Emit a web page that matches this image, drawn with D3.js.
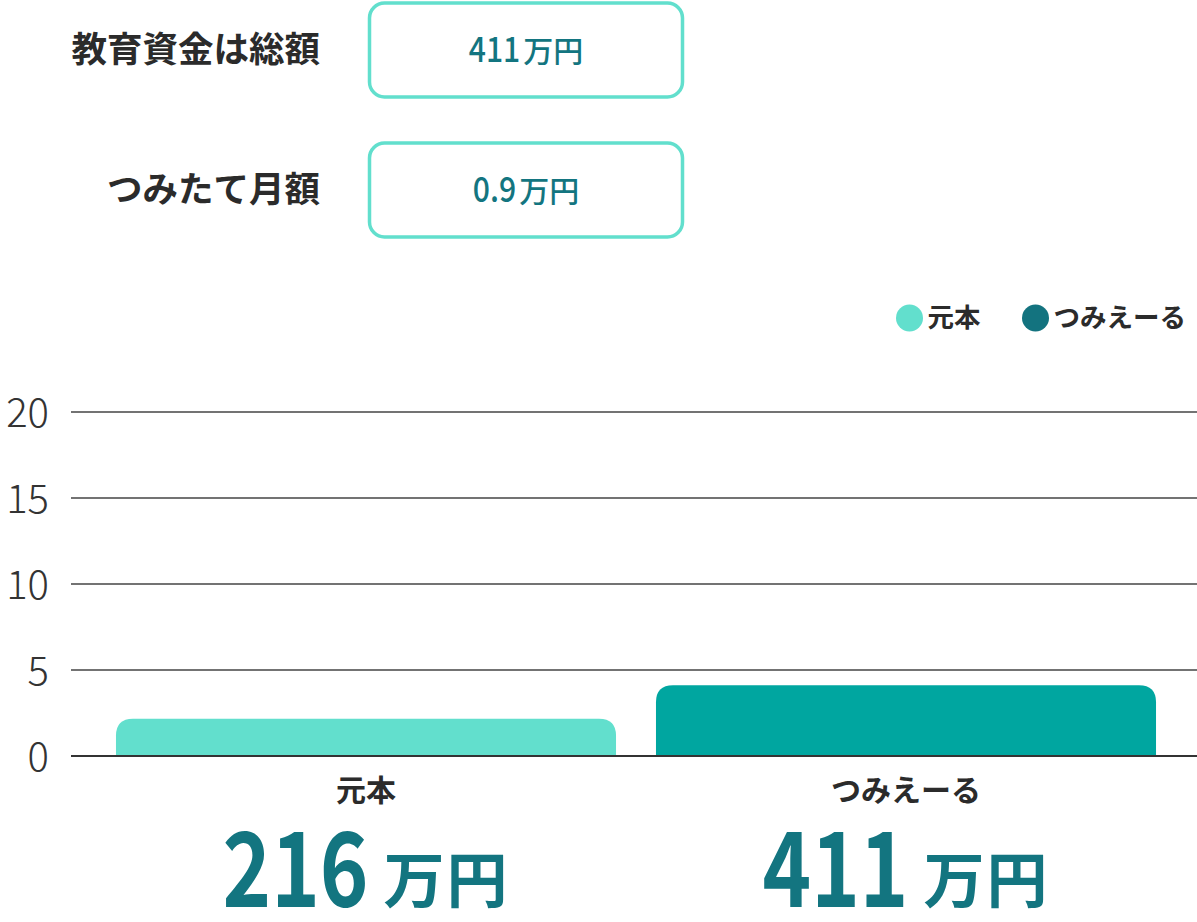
<!DOCTYPE html>
<html><head><meta charset="utf-8">
<script src="https://cdn.jsdelivr.net/npm/d3@7/dist/d3.min.js"></script>
<style>
html,body{margin:0;padding:0;background:#fff;}
svg{display:block;font-family:"Noto Sans CJK JP","Noto Sans",sans-serif;}
</style></head>
<body>
<svg id="chart" width="1197" height="922"></svg>
<script>
// ---- data ----
const categories = ["元本", "つみえーる"];
const values = [2.16, 4.11];            // 百万円
const valueLabels = ["216", "411"];
const unitLabel = "万円";
const yTicks = [0, 5, 10, 15, 20];
const barColors = ["#62DFCD", "#00A6A0"];
const legendColors = ["#62DFCD", "#13737F"];
const inputLabels = ["教育資金は総額", "つみたて月額"];
const inputValues = ["411", "0.9"];

const svg = d3.select("#chart");
const textDark = "#2b2b2b";
const teal = "#137580";

// ---- input rows ----
inputLabels.forEach((lab, i) => {
  const cy = 50 + i * 140;
  svg.append("text").attr("x", 320).attr("y", cy).attr("dy", "0.35em")
    .attr("text-anchor", "end").attr("font-size", 35.5).attr("font-weight", 700)
    .attr("fill", textDark).text(lab);
  svg.append("rect").attr("x", 369.5).attr("y", cy - 47).attr("width", 313).attr("height", 94)
    .attr("rx", 15).attr("fill", "#fff").attr("stroke", "#62DFCD").attr("stroke-width", 3.5);
  const g = svg.append("g");
  const d = g.append("text").attr("x", 0).attr("y", 0).attr("font-size", 35).attr("font-weight", 500)
    .attr("fill", teal).text(inputValues[i]);
  const dw = d.node().getComputedTextLength() * 0.86;
  d.attr("textLength", dw).attr("lengthAdjust", "spacingAndGlyphs");
  g.append("text").attr("x", dw + 3).attr("y", 0).attr("font-size", 30).attr("font-weight", 500)
    .attr("fill", teal).text(unitLabel);
  const bb = g.node().getBBox();
  g.attr("transform", `translate(${526 - bb.width / 2},${cy + 12})`);
});

// ---- legend ----
const legendX = [909.5, 1035.5];
categories.forEach((c, i) => {
  svg.append("circle").attr("cx", legendX[i]).attr("cy", 318).attr("r", 13.5).attr("fill", legendColors[i]);
  svg.append("text").attr("x", legendX[i] + 18).attr("y", 318).attr("dy", "0.35em")
    .attr("font-size", 26.5).attr("font-weight", 700).attr("fill", textDark).text(c);
});

// ---- scales ----
const y = d3.scaleLinear().domain([0, 20]).range([756, 412]);
const x = d3.scaleBand().domain(categories).range([96, 1176]).paddingInner(0.074).paddingOuter(0.037);

// gridlines + ticks
const yAxis = d3.axisLeft(y).tickValues(yTicks).tickSize(0).tickPadding(0);
const ga = svg.append("g").attr("transform", "translate(49,0)").call(yAxis);
ga.select(".domain").remove();
ga.selectAll("text").attr("font-size", 40).attr("font-weight", 300).attr("fill", "#333")
  .attr("font-family", '"Noto Sans CJK JP",sans-serif').attr("dy", "0.35em");

svg.append("g").selectAll("line").data(yTicks).join("line")
  .attr("x1", 71).attr("x2", 1197).attr("y1", d => y(d)).attr("y2", d => y(d))
  .attr("stroke", "#444").attr("stroke-width", 1.6);

// bars with rounded top
const r = 17;
function barPath(x0, w, yTop, yBase) {
  const rr = Math.min(r, yBase - yTop);
  return `M${x0},${yBase}V${yTop + rr}Q${x0},${yTop} ${x0 + rr},${yTop}H${x0 + w - rr}Q${x0 + w},${yTop} ${x0 + w},${yTop + rr}V${yBase}Z`;
}
svg.append("g").selectAll("path").data(categories).join("path")
  .attr("d", (c, i) => barPath(x(c), x.bandwidth(), y(values[i]), y(0)))
  .attr("fill", (c, i) => barColors[i]);

// zero line on top
svg.append("line").attr("x1", 71).attr("x2", 1197).attr("y1", y(0)).attr("y2", y(0))
  .attr("stroke", "#333").attr("stroke-width", 2);

// category labels
svg.append("g").selectAll("text").data(categories).join("text")
  .attr("x", c => x(c) + x.bandwidth() / 2).attr("y", 790).attr("dy", "0.35em")
  .attr("text-anchor", "middle").attr("font-size", 30).attr("font-weight", 700)
  .attr("fill", textDark).text(c => c);

// big value labels
categories.forEach((c, i) => {
  const g = svg.append("g");
  const d = g.append("text").attr("x", 0).attr("y", 0).attr("font-size", 104).attr("font-weight", 700)
    .attr("fill", teal).text(valueLabels[i]);
  const dw = 146;
  d.attr("textLength", dw).attr("lengthAdjust", "spacingAndGlyphs");
  g.append("text").attr("x", dw + 15).attr("y", -4).attr("font-size", 61).attr("font-weight", 700)
    .attr("letter-spacing", 2).attr("fill", teal).text(unitLabel);
  const bb = g.node().getBBox();
  g.attr("transform", `translate(${x(c) + x.bandwidth() / 2 - bb.width / 2},907)`);
});
</script>
</body></html>
